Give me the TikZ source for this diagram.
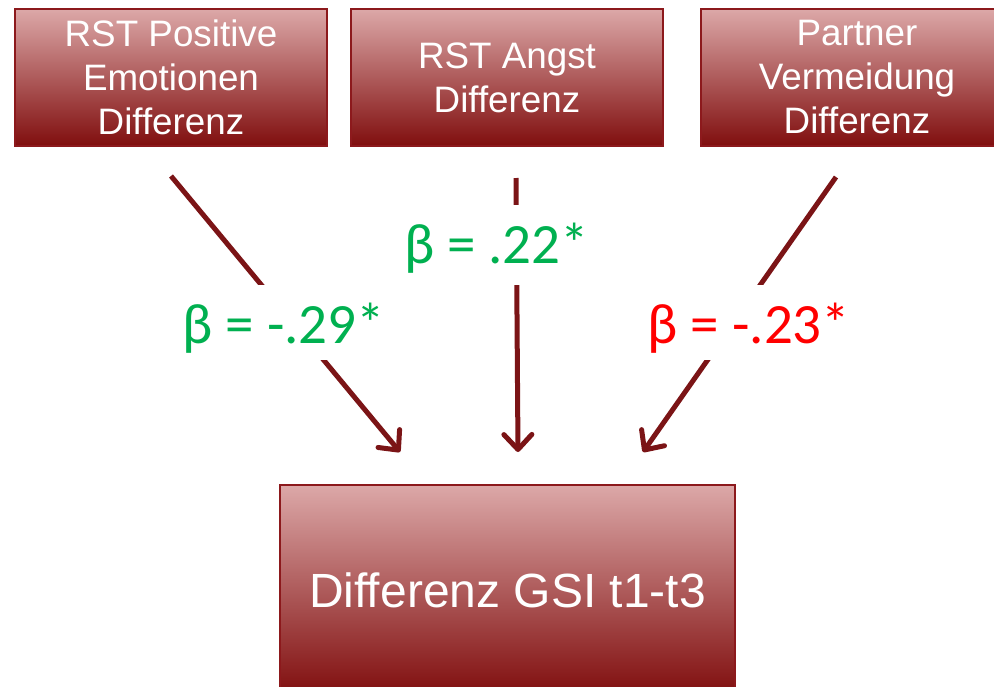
\documentclass[tikz,border=0pt]{standalone}
\usepackage{fontspec}
\setmainfont[Ligatures=NoCommon]{Liberation Sans}
\newfontfamily\calfont{Carlito}
\usetikzlibrary{arrows.meta}
\definecolor{boxtop}{RGB}{220,168,168}
\definecolor{boxmid}{RGB}{190,125,125}
\definecolor{boxbot}{RGB}{128,14,14}
\definecolor{boxline}{RGB}{140,25,28}
\definecolor{arrowc}{RGB}{123,20,22}
\definecolor{betagreen}{RGB}{0,176,80}
\definecolor{betared}{RGB}{255,0,0}
\begin{document}
\begin{tikzpicture}[x=1pt,y=-1pt,
  varbox/.style={draw=boxline, line width=1.5pt, top color=boxtop,
    middle color=boxmid, bottom color=boxbot, text=white,
    font=\fontsize{36.8}{44}\selectfont, align=center,
    minimum width=312pt, minimum height=137pt, inner sep=0pt},
  gsibox/.style={varbox, font=\fontsize{48}{56}\selectfont,
    minimum width=455pt, minimum height=210pt},
  conn/.style={draw=arrowc, line width=5pt,
    -{Straight Barb[length=15pt,width=28pt,round]}},
  betalabel/.style={fill=white, inner sep=0pt, anchor=base,
    font=\calfont\fontsize{57}{64}\selectfont,
    text height=58pt, text depth=17pt}]
\clip (0,0) rectangle (994,686);
% boxes
\node[varbox] (pe) at (171,77.5) {RST Positive\\Emotionen\\Differenz};
\node[varbox] (an) at (507,77.5) {RST Angst\\Differenz};
\node[varbox] (pv) at (857,77.5) {Partner\\Vermeidung\\Differenz};
\node[gsibox] (gsi) at (507.5,590) {Differenz GSI t1-t3};
% connector end points
\coordinate (s1) at (171,176);
\coordinate (e1) at (400,452);
\coordinate (s2) at (516,178);
\coordinate (e2) at (518,452);
\coordinate (s3) at (836,177);
\coordinate (e3) at (643,452);
\draw[conn] (s1) -- (e1);
\draw[conn] (s2) -- (e2);
\draw[conn] (s3) -- (e3);
% labels
\node[betalabel, text=betagreen] (b1) at (284,343) {β = -.29*};
\node[betalabel, text=betagreen, text depth=22pt] (b2) at (496.5,263) {β = .22*};
\node[betalabel, text=betared] (b3) at (749,343) {β = -.23*};
\end{tikzpicture}
\end{document}
